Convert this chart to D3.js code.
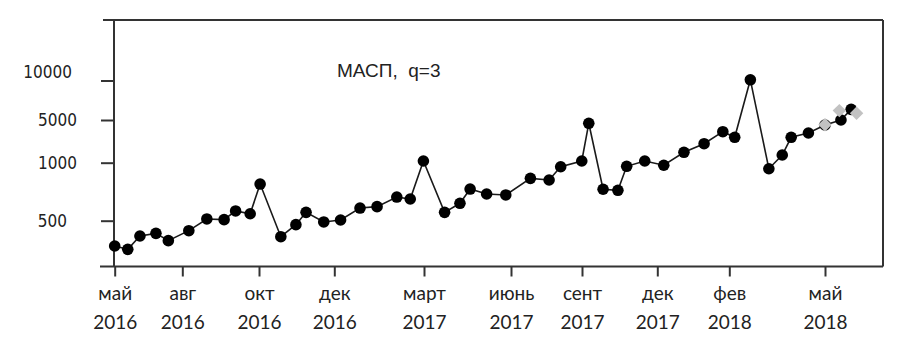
<!DOCTYPE html>
<html>
<head>
<meta charset="utf-8">
<script src="https://cdn.jsdelivr.net/npm/d3@7"></script>
<style>
body {
  margin: 0;
  background-color: white;
}
.ylab text {
    font-family: "DejaVu Sans Condensed", "DejaVu Sans", sans-serif;
    font-size: 17px;
    fill: #222;
}
.xlab text {
    font-family: Lato, "Liberation Sans", sans-serif;
    font-size: 19px;
    fill: #222;
}
</style>
</head>
<body>
<script>
// month index: 0 = май 2016
const months = [0.0, 0.58, 1.12, 1.83, 2.38, 3.17, 3.64, 4.09, 4.39, 4.77,
                5.03, 5.58, 5.98, 6.25, 6.72, 7.21, 7.86, 8.43, 9.09, 9.54,
                9.98, 10.71, 11.24, 11.59, 12.16, 12.82, 13.82, 14.61, 15.10, 15.99,
                16.27, 16.84, 17.43, 17.78, 18.50, 19.18, 19.74, 20.30, 20.82, 21.17,
                21.66, 22.24, 22.66, 22.94, 23.48, 24.0, 24.50, 24.82];
const values = [282, 253, 368, 391, 328, 414, 515, 509, 584, 560,
                816, 362, 466, 572, 489, 506, 609, 621, 704, 687,
                1159, 572, 650, 773, 730, 722, 865, 851, 965, 1159,
                4692, 771, 762, 969, 1159, 978, 1974, 2780, 3905, 3380,
                10090, 948, 1721, 3380, 3783, 4532, 5000, 6346];
// forecast points (grey)
const fcMonths = [24.0, 24.45, 24.99];
const fcValues = [4561, 6192, 5859];

const yTicks = [500, 1000, 5000, 10000];
const xTickMonths = [0, 3, 5, 7, 10, 13, 16, 19, 21, 24];
const xMonthLabels = ["май", "авг", "окт", "дек", "март", "июнь", "сент", "дек", "фев", "май"];
const xYearLabels = ["2016", "2016", "2016", "2016", "2017", "2017", "2017", "2017", "2018", "2018"];
const title = "МАСП,  q=3";

const W = 904, H = 348;
const plotL = 114, plotR = 883, plotT = 20, plotB = 266.5;

const svg = d3.select("body").append("svg")
    .attr("width", W)
    .attr("height", H);

// axes on the original chart are hand spaced, so both scales are piecewise
const x = d3.scaleLinear()
    .domain(xTickMonths)
    .range([114.7, 182.3, 259, 334.3, 424, 511, 582, 657.3, 729.3, 825]);

const y = d3.scaleLinear()
    .domain(yTicks)
    .range([220.7, 162.7, 120, 80.5]);

// frame
const frame = svg.append("g").attr("stroke", "#333").attr("stroke-width", 2);
frame.append("line").attr("x1", 103).attr("x2", plotR).attr("y1", plotT).attr("y2", plotT);
frame.append("line").attr("x1", 100).attr("x2", plotR).attr("y1", plotB).attr("y2", plotB);
frame.append("line").attr("x1", plotL).attr("x2", plotL).attr("y1", plotT - 1).attr("y2", plotB);
frame.append("line").attr("x1", plotR).attr("x2", plotR).attr("y1", plotT).attr("y2", plotB);

// y axis
const yAxis = d3.axisLeft(y).tickValues(yTicks).tickSize(13).tickFormat(d3.format("d"));
const gy = svg.append("g")
    .attr("class", "ylab")
    .attr("transform", `translate(${plotL},0)`)
    .call(yAxis);
gy.select(".domain").remove();
gy.selectAll(".tick line").attr("stroke", "#333").attr("stroke-width", 2);
gy.selectAll(".tick text")
  .attr("font-family", null).attr("font-size", null)
  .attr("dy", d => d === 10000 ? "-0.18em" : "0.32em")
  .attr("x", d => d === 10000 ? -42 : (d === 500 ? -47 : -37));

// x axis
const xAxis = d3.axisBottom(x).tickValues(xTickMonths).tickSize(10).tickFormat("");
const gx = svg.append("g")
    .attr("class", "xlab")
    .attr("transform", `translate(0,${plotB})`)
    .call(xAxis);
gx.select(".domain").remove();
gx.selectAll(".tick line").attr("stroke", "#333").attr("stroke-width", 2);
const tt = gx.selectAll(".tick text").attr("font-family", null).attr("font-size", null).attr("y", 0).attr("dy", null);
tt.append("tspan").attr("x", 0).attr("y", 33).text((d, i) => xMonthLabels[i]);
tt.append("tspan").attr("x", 0).attr("y", 62).text((d, i) => xYearLabels[i]);

// title
svg.append("text")
   .attr("x", 337)
   .attr("y", 77)
   .attr("font-family", "'Liberation Sans', Arial, sans-serif")
   .attr("font-size", 19)
   .attr("fill", "#222")
   .style("white-space", "pre")
   .text(title);

// series
const pts = months.map((m, i) => [m, values[i]]);
const line = d3.line().x(d => x(d[0])).y(d => y(d[1]));

svg.append("path")
   .datum(pts)
   .attr("fill", "none")
   .attr("stroke", "#1a1a1a")
   .attr("stroke-width", 1.6)
   .attr("d", line);

svg.selectAll("circle.pt").data(pts).enter()
   .append("circle")
   .attr("class", "pt")
   .attr("cx", d => x(d[0]))
   .attr("cy", d => y(d[1]))
   .attr("r", 5.8)
   .attr("fill", "#000");

// grey forecast markers: squares turned 45 degrees
const fc = fcMonths.map((m, i) => [m, fcValues[i]]);
svg.selectAll("path.fc").data(fc).enter()
   .append("path")
   .attr("class", "fc")
   .attr("transform", d => `translate(${x(d[0])},${y(d[1])}) rotate(45)`)
   .attr("d", d3.symbol().type(d3.symbolSquare).size(90))
   .attr("fill", "#c2c2c2");
</script>
</body>
</html>
